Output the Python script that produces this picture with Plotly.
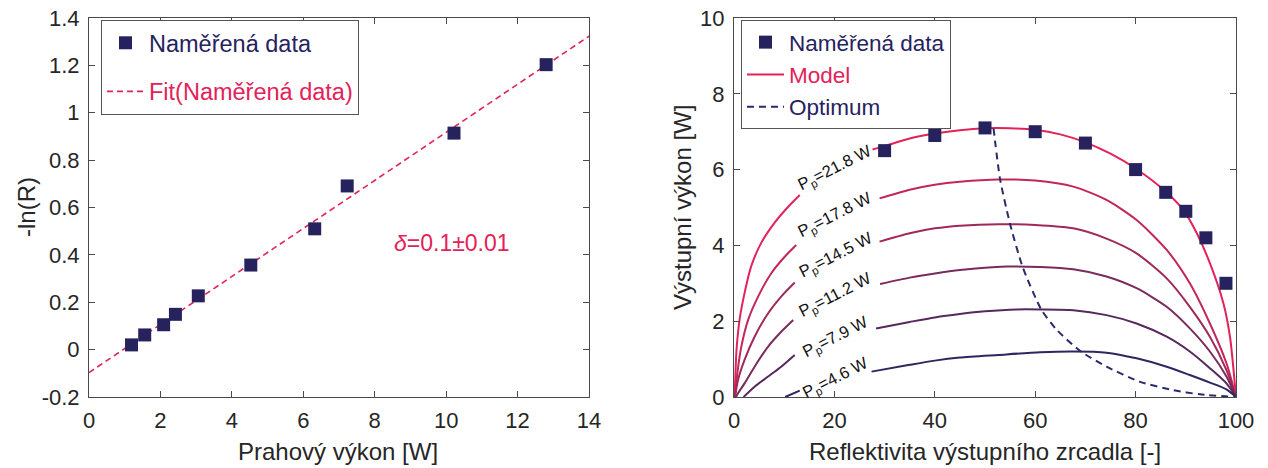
import plotly.graph_objects as go

# ---------------- Left panel data ----------------
thr_power = [1.19, 1.56, 2.09, 2.42, 3.06, 4.53, 6.32, 7.23, 10.22, 12.80]
neg_ln_R = [0.020, 0.062, 0.105, 0.149, 0.227, 0.357, 0.510, 0.691, 0.914, 1.203]
fit_x = [0, 14]
fit_y = [-0.097, 1.323]

left_xticks = [0, 2, 4, 6, 8, 10, 12, 14]
left_xticktext = ["0", "2", "4", "6", "8", "10", "12", "14"]
left_yticks = [-0.2, 0, 0.2, 0.4, 0.6, 0.8, 1.0, 1.2, 1.4]
left_yticktext = ["-0.2", "0", "0.2", "0.4", "0.6", "0.8", "1", "1.2", "1.4"]

# ---------------- Right panel data ----------------
refl_meas = [30, 40, 50, 60, 70, 80, 86, 90, 94, 98]
pout_meas = [6.5, 6.9, 7.1, 7.0, 6.7, 6.0, 5.4, 4.9, 4.2, 3.0]

pump_powers = [21.8, 17.8, 14.5, 11.2, 7.9, 4.6]
pump_labels = ["P<sub>p</sub>=21.8 W", "P<sub>p</sub>=17.8 W", "P<sub>p</sub>=14.5 W",
               "P<sub>p</sub>=11.2 W", "P<sub>p</sub>=7.9 W", "P<sub>p</sub>=4.6 W"]

# model curves: (left segment, right segment), gap where the inline label sits
m218_R_left = [0.1, 0.27, 0.5, 1.1, 2.1, 3.4, 5.4, 8.1, 10.8, 13.1]
m218_P_left = [0.0, 0.54, 1.24, 2.03, 2.74, 3.44, 4.06, 4.60, 5.02, 5.33]
m218_R_right = [27.6, 30, 35, 40, 45, 50, 55, 60, 65, 70, 75, 80, 86, 89.5, 92.2, 94.8, 97.5, 98.8, 100]
m218_P_right = [6.53, 6.62, 6.82, 6.95, 7.04, 7.09, 7.09, 7.05, 6.93, 6.72, 6.42, 6.03, 5.42, 4.93, 4.32, 3.53, 2.47, 1.59, 0.0]

m178_R_left = [0.2, 0.66, 1.46, 2.8, 4.8, 7.4, 10.1, 12.4]
m178_P_left = [0.0, 0.62, 1.33, 2.03, 2.65, 3.26, 3.70, 4.01]
m178_R_right = [29, 35, 40, 45, 52.7, 60, 67.6, 74.2, 80.2, 86.2, 90.8, 94.8, 98.1, 100]
m178_P_right = [5.24, 5.47, 5.60, 5.68, 5.74, 5.71, 5.55, 5.20, 4.67, 3.88, 3.00, 1.94, 0.89, 0.0]

m145_R_left = [0.2, 0.8, 2.1, 4.1, 6.8, 9.4, 12.1]
m145_P_left = [0.0, 0.45, 0.98, 1.59, 2.21, 2.65, 3.02]
m145_R_right = [29, 35, 40, 45, 52.7, 60, 67.6, 74.2, 80.2, 86.2, 90.8, 94.8, 98.1, 100]
m145_P_right = [4.10, 4.32, 4.45, 4.52, 4.56, 4.54, 4.45, 4.18, 3.79, 3.13, 2.38, 1.59, 0.71, 0.0]

m112_R_left = [0.4, 0.8, 2.1, 4.1, 6.8, 9.4, 11.8]
m112_P_left = [0.0, 0.10, 0.36, 0.80, 1.33, 1.72, 2.03]
m112_R_right = [29.1, 35, 40, 45, 54.3, 61, 67.6, 74.2, 80.2, 86.2, 90.8, 94.8, 98.1, 100]
m112_P_right = [2.98, 3.15, 3.26, 3.35, 3.44, 3.43, 3.37, 3.18, 2.87, 2.38, 1.81, 1.20, 0.54, 0.0]

m79_R_left = [1.9, 4.1, 6.8, 9.4, 12.1]
m79_P_left = [0.0, 0.27, 0.54, 0.80, 1.11]
m79_R_right = [28.3, 35, 40, 45, 50, 56.3, 61, 67.6, 74.2, 80.2, 86.2, 90.8, 94.8, 98.1, 100]
m79_P_right = [1.81, 1.98, 2.10, 2.19, 2.26, 2.31, 2.31, 2.29, 2.16, 1.94, 1.59, 1.20, 0.76, 0.36, 0.0]

m46_R_left = [10.2, 13.1]
m46_P_left = [0.0, 0.17]
m46_R_right = [27.4, 35, 40, 45, 52.7, 61, 67.6, 74.2, 80.2, 86.2, 90.8, 94.8, 98.1, 100]
m46_P_right = [0.67, 0.85, 0.96, 1.04, 1.11, 1.18, 1.20, 1.17, 1.02, 0.80, 0.58, 0.38, 0.20, 0.0]

opt_R = [51.7, 53, 55, 57.5, 61.2, 64.3, 69, 74.2, 80.9, 87.5, 92.8, 100]
opt_P = [7.09, 5.75, 4.56, 3.43, 2.31, 1.77, 1.21, 0.80, 0.40, 0.18, 0.07, 0.0]

right_xticks = [0, 20, 40, 60, 80, 100]
right_xticktext = ["0", "20", "40", "60", "80", "100"]
right_yticks = [0, 2, 4, 6, 8, 10]
right_yticktext = ["0", "2", "4", "6", "8", "10"]

# ---------------- styles ----------------
FONT = "Liberation Sans, Arial, Helvetica, sans-serif"
NAVY = "#26225E"
CRIMSON = "#E3225A"
AX = "#262626"
curve_colors = ["#E3225A", "#C32659", "#A0295A", "#7B2A5C", "#56285E", "#2F2561"]
label_pos = [(20.1, 6.04), (20.1, 4.80), (20.4, 3.75), (20.2, 2.69), (20.2, 1.59), (20.2, 0.51)]

fig = go.Figure()

# Left panel
fig.add_trace(go.Scatter(x=fit_x, y=fit_y, mode="lines",
                         line=dict(color=CRIMSON, width=1.6, dash="6px,4px"),
                         name=f"<span style='color:{CRIMSON}'>Fit(Naměřená data)</span>",
                         legendgroup="b", legendrank=2, legend="legend",
                         xaxis="x", yaxis="y", cliponaxis=True))
fig.add_trace(go.Scatter(x=thr_power, y=neg_ln_R, mode="markers",
                         marker=dict(symbol="square", size=13, color=NAVY),
                         name=f"<span style='color:{NAVY}'>Naměřená data</span>",
                         legendgroup="a", legendrank=1, legend="legend",
                         xaxis="x", yaxis="y"))

# Right panel model curves
curves = [
    (m218_R_left, m218_P_left, m218_R_right, m218_P_right),
    (m178_R_left, m178_P_left, m178_R_right, m178_P_right),
    (m145_R_left, m145_P_left, m145_R_right, m145_P_right),
    (m112_R_left, m112_P_left, m112_R_right, m112_P_right),
    (m79_R_left, m79_P_left, m79_R_right, m79_P_right),
    (m46_R_left, m46_P_left, m46_R_right, m46_P_right),
]
for i, (rl, pl, rr, pr) in enumerate(curves):
    xs = list(rl) + [None] + list(rr)
    ys = list(pl) + [None] + list(pr)
    fig.add_trace(go.Scatter(x=xs, y=ys, mode="lines",
                             line=dict(color=curve_colors[i], width=2, shape="spline", smoothing=0.7),
                             connectgaps=False,
                             name=f"<span style='color:{CRIMSON}'>Model</span>",
                             showlegend=(i == 0), legend="legend2", legendrank=2,
                             xaxis="x2", yaxis="y2"))

fig.add_trace(go.Scatter(x=opt_R, y=opt_P, mode="lines",
                         line=dict(color="#2A2A6A", width=2, dash="7px,5px", shape="spline", smoothing=0.6),
                         name=f"<span style='color:{NAVY}'>Optimum</span>",
                         legend="legend2", legendrank=3, xaxis="x2", yaxis="y2"))
fig.add_trace(go.Scatter(x=refl_meas, y=pout_meas, mode="markers",
                         marker=dict(symbol="square", size=13, color=NAVY),
                         name=f"<span style='color:{NAVY}'>Naměřená data</span>",
                         legend="legend2", legendrank=1, xaxis="x2", yaxis="y2"))

W, H = 1268, 468
axis_common = dict(showline=True, linecolor="#4a4a4a", linewidth=1, mirror="ticks",
                   ticks="inside", ticklen=6, tickcolor="#4a4a4a", showgrid=False,
                   zeroline=False, automargin=False, ticklabelstandoff=4,
                   tickfont=dict(size=22, color=AX, family=FONT))

ydom = [1 - 397 / H, 1 - 18 / H]
fig.update_layout(
    width=W, height=H, margin=dict(l=0, r=0, t=0, b=0, autoexpand=False),
    paper_bgcolor="white", plot_bgcolor="white",
    font=dict(family=FONT, size=22, color=AX),
    xaxis=dict(domain=[89 / W, 589 / W], range=[0, 14], tickvals=left_xticks,
               ticktext=left_xticktext, anchor="y", **axis_common),
    yaxis=dict(domain=ydom, range=[-0.2, 1.4], tickvals=left_yticks,
               ticktext=left_yticktext, anchor="x", **axis_common),
    xaxis2=dict(domain=[734 / W, 1236 / W], range=[0, 100], tickvals=right_xticks,
                ticktext=right_xticktext, anchor="y2", **axis_common),
    yaxis2=dict(domain=ydom, range=[0, 10], tickvals=right_yticks,
                ticktext=right_yticktext, anchor="x2", **axis_common),
    legend=dict(x=101 / W, y=1 - 20 / H, xanchor="left", yanchor="top",
                bordercolor="#555", borderwidth=1, bgcolor="white", itemwidth=37,
                font=dict(size=23.5, family=FONT), tracegroupgap=15),
    legend2=dict(x=741 / W, y=1 - 20 / H, xanchor="left", yanchor="top",
                 bordercolor="#555", borderwidth=1, bgcolor="white", itemwidth=37,
                 font=dict(size=22.5, family=FONT)),
    showlegend=True,
)

ann = [
    dict(text="Prahový výkon [W]", x=338 / W, y=1 - 451 / H, xref="paper", yref="paper",
         xanchor="center", yanchor="middle", showarrow=False, font=dict(size=24, color=AX)),
    dict(text="-ln(R)", x=26 / W, y=1 - 207 / H, xref="paper", yref="paper",
         xanchor="center", yanchor="middle", showarrow=False, textangle=-90,
         font=dict(size=24, color=AX)),
    dict(text="Reflektivita výstupního zrcadla [-]", x=985 / W, y=1 - 451 / H, xref="paper",
         yref="paper", xanchor="center", yanchor="middle", showarrow=False,
         font=dict(size=24, color=AX)),
    dict(text="Výstupní výkon [W]", x=682 / W, y=1 - 208 / H, xref="paper", yref="paper",
         xanchor="center", yanchor="middle", showarrow=False, textangle=-90,
         font=dict(size=24, color=AX)),
    dict(text="<i>δ</i>=0.1±0.01", x=10.15, y=0.45, xref="x", yref="y",
         xanchor="center", yanchor="middle", showarrow=False,
         font=dict(size=23, color=CRIMSON)),
]
for lab, (lx, ly) in zip(pump_labels, label_pos):
    ann.append(dict(text=lab, x=lx, y=ly, xref="x2", yref="y2", showarrow=False,
                    xanchor="center", yanchor="middle",
                    textangle=-27, font=dict(size=16.5, color="#111111")))
fig.update_layout(annotations=ann)

fig.write_html("out.html")
